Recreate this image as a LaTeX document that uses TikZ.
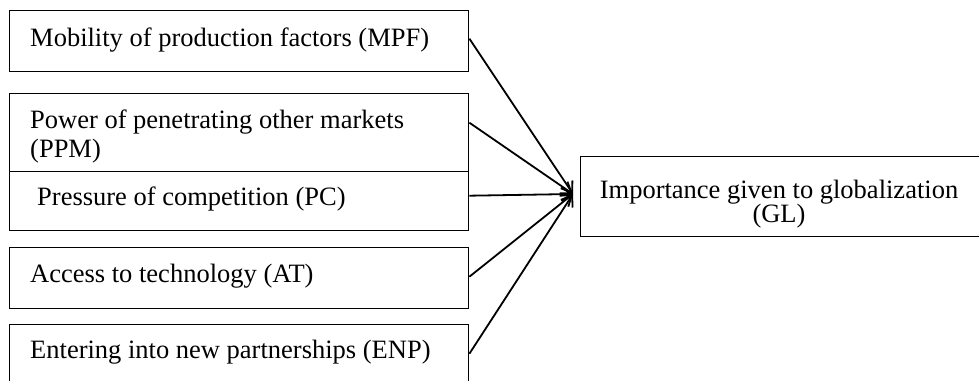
\documentclass[tikz,border=0pt]{standalone}
\usepackage{fontspec}
\setmainfont{Liberation Serif}
\usetikzlibrary{arrows.meta,calc}
\begin{document}
\begin{tikzpicture}[x=1pt,y=-1pt,
  box/.style={draw,line width=1.4pt,rectangle,anchor=north west,inner sep=0pt,minimum width=459pt},
  lbl/.style={anchor=base west,inner sep=0pt,font=\fontsize{26.5}{29}\selectfont},
  clbl/.style={anchor=base,inner sep=0pt,font=\fontsize{26.5}{29}\selectfont},
  gbox/.style={draw,line width=1.4pt,rectangle,anchor=north west,inner sep=0pt,
    minimum width=404pt,minimum height=80pt},
  conn/.style={line width=1.8pt,-{Straight Barb[length=10pt,width=14pt,line width=1.8pt]}}]
\useasboundingbox (0,0) rectangle (979,380);
\clip (0,0) rectangle (979,380);
\node[box,minimum height=61pt] (mpf) at (9,10) {};
\node[box,minimum height=78pt] (ppm) at (9,93) {};
\node[box,minimum height=59pt] (pc) at (9,171) {};
\node[box,minimum height=61pt] (at) at (9,247) {};
\node[box,minimum height=61pt] (enp) at (9,324) {};
\node[gbox] (gl) at (580,156) {};
\node[lbl] (tmpf) at (30,46) {Mobility of production factors (MPF)};
\node[lbl] (tppm1) at (30,128) {Power of penetrating other markets};
\node[lbl] (tppm2) at (30,157) {(PPM)};
\node[lbl] (tpc) at (37,205) {Pressure of competition (PC)};
\node[lbl] (tat) at (30,282) {Access to technology (AT)};
\node[lbl] (tenp) at (30,358) {Entering into new partnerships (ENP)};
\node[clbl] (tgl1) at (779,198) {Importance given to globalization};
\node[clbl] (tgl2) at (779,222) {(GL)};
\coordinate (hub) at (573,194);
\draw[conn] ([yshift=2.5pt]mpf.east) -- (hub);
\draw[conn] ([yshift=10pt]ppm.east) -- (hub);
\draw[conn] ([yshift=5.5pt]pc.east) -- (hub);
\draw[conn] ([yshift=1.5pt]at.east) -- (hub);
\draw[conn] ([yshift=1.5pt]enp.east) -- (hub);
\end{tikzpicture}
\end{document}
